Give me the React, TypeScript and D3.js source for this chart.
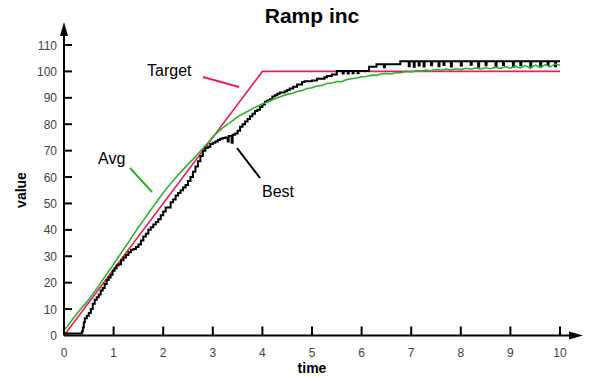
import React from 'react'
import * as d3 from 'd3'

// chart values
const xTicks = [0, 1, 2, 3, 4, 5, 6, 7, 8, 9, 10]
const yTicks = [0, 10, 20, 30, 40, 50, 60, 70, 80, 90, 100, 110]

const target: [number, number][] = [[0, 0], [4, 100], [10, 100]]

const avg: [number, number][] = [
  [0, 2], [0.1, 4.3], [0.2, 6.8], [0.3, 9.2], [0.4, 11.4], [0.5, 13.6], [0.6, 16.2], [0.7, 18.8],
  [0.8, 21.6], [0.9, 24.3], [1.0, 27], [1.1, 29.8], [1.2, 32.6], [1.3, 35.3], [1.4, 38.2], [1.5, 41],
  [1.6, 43.6], [1.7, 46.3], [1.8, 48.9], [1.9, 51.5], [2.0, 54], [2.1, 56.4], [2.2, 58.6], [2.3, 60.8],
  [2.4, 62.8], [2.5, 64.8], [2.6, 66.7], [2.7, 68.8], [2.8, 70.9], [2.9, 73], [3.0, 75.2], [3.1, 77],
  [3.2, 78.6], [3.3, 80], [3.4, 81.4], [3.5, 82.8], [3.6, 83.9], [3.7, 84.8], [3.8, 85.9], [3.9, 86.8],
  [4.0, 87.7], [4.1, 88.4], [4.2, 89.3], [4.3, 89.9], [4.4, 90.7], [4.5, 91.3], [4.6, 91.6], [4.7, 92.4],
  [4.8, 92.8], [4.9, 93.5], [5.0, 93.8], [5.1, 94.5], [5.2, 94.7], [5.3, 95.4], [5.4, 95.6], [5.5, 96.2],
  [5.6, 96.1], [5.7, 96.9], [5.8, 97.2], [5.9, 97.5], [6.0, 98], [6.1, 98.1], [6.2, 98.6], [6.3, 98.5],
  [6.4, 99.1], [6.5, 99.2], [6.6, 99.0], [6.7, 99.6], [6.8, 99.5], [6.9, 100], [7.0, 99.8], [7.1, 100.3],
  [7.2, 100.1], [7.3, 100.5], [7.4, 100.2], [7.5, 100.7], [7.6, 100.4], [7.7, 100.9], [7.8, 100.5],
  [7.9, 101], [8.0, 100.7], [8.1, 101.2], [8.2, 100.8], [8.3, 101.3], [8.4, 100.9], [8.5, 101.4],
  [8.6, 101], [8.7, 101.6], [8.8, 101.1], [8.9, 101.8], [9.0, 101.2], [9.1, 102], [9.2, 101.3],
  [9.3, 102.2], [9.4, 101.2], [9.5, 102.4], [9.6, 101.5], [9.7, 102.6], [9.8, 101.7], [9.9, 102.8],
  [10, 102.4],
]

const best: [number, number][] = [
  [0, 0.8], [0.36, 1.5], [0.38, 3], [0.4, 5], [0.42, 6.5], [0.46, 7.5], [0.5, 8.5], [0.54, 10],
  [0.58, 12], [0.62, 13.5], [0.66, 14.5], [0.7, 15.5], [0.74, 17], [0.78, 18], [0.82, 19.5],
  [0.86, 21], [0.9, 22], [0.94, 23], [0.98, 24.5], [1.02, 25.5], [1.06, 26.5], [1.1, 27],
  [1.15, 28.5], [1.2, 29.5], [1.25, 30.5], [1.3, 31.5], [1.35, 32.5], [1.4, 32.8], [1.45, 33.5],
  [1.5, 34.5], [1.55, 36], [1.6, 37.5], [1.65, 38.5], [1.7, 40], [1.75, 41], [1.8, 42], [1.85, 43],
  [1.9, 44], [1.95, 45.5], [2.0, 47], [2.05, 48.5], [2.1, 48.5], [2.15, 50.5], [2.2, 51.5],
  [2.25, 53], [2.3, 54], [2.35, 55], [2.4, 56], [2.45, 57], [2.5, 58.5], [2.55, 60], [2.6, 62],
  [2.65, 64], [2.7, 66], [2.75, 68], [2.8, 70], [2.85, 71], [2.9, 71.5], [2.95, 72.5], [3.0, 73],
  [3.05, 73.5], [3.1, 74], [3.15, 74.5], [3.2, 74.8], [3.25, 75], [3.3, 73.5], [3.32, 75.5],
  [3.38, 73], [3.4, 76], [3.45, 76.5], [3.5, 77.5], [3.55, 79], [3.6, 80], [3.65, 81], [3.7, 82],
  [3.75, 83], [3.8, 84], [3.85, 85], [3.9, 85.5], [3.95, 86.5], [4.0, 87.5], [4.05, 88.5],
  [4.1, 89], [4.15, 89.5], [4.2, 90.5], [4.25, 91], [4.3, 91.5], [4.35, 92], [4.45, 92.5],
  [4.5, 93], [4.55, 93.5], [4.62, 94.2], [4.7, 95], [4.8, 96], [4.85, 96.3], [5.0, 96.6],
  [5.1, 97.2], [5.25, 97.8], [5.3, 98.3], [5.4, 98.8], [5.5, 100.2], [5.62, 99.2], [5.64, 100.2],
  [5.72, 99.2], [5.74, 100.2], [5.82, 99.3], [5.84, 100.2], [5.92, 99.3], [5.94, 100.2],
  [6.15, 101.8], [6.3, 102.7], [6.45, 101.6], [6.47, 102.7], [6.78, 103.8],
  [6.95, 102], [6.97, 103.8], [7.05, 101.8], [7.07, 103.8], [7.15, 102.2], [7.17, 103.8],
  [7.25, 101.9], [7.27, 103.8], [7.4, 102.3], [7.42, 103.8], [7.55, 102], [7.57, 103.8],
  [7.65, 102.4], [7.67, 103.8], [7.8, 101.9], [7.82, 103.8], [8.0, 102.2], [8.02, 103.8],
  [8.2, 102.5], [8.22, 103.8], [8.35, 101.8], [8.37, 103.8], [8.5, 102.3], [8.52, 103.8],
  [8.7, 102], [8.72, 103.8], [8.85, 102.4], [8.87, 103.8], [9.05, 101.8], [9.07, 103.8],
  [9.2, 102.3], [9.22, 103.8], [9.4, 102], [9.42, 103.8], [9.6, 101.7], [9.62, 103.8],
  [9.75, 102.3], [9.77, 103.8], [9.9, 102], [9.92, 103.8], [10, 103.8],
]

const W = 592
const H = 381

export default function App() {
  const x = d3.scaleLinear().domain([0, 10]).range([64, 560])
  const y = d3.scaleLinear().domain([0, 110]).range([335.5, 45])

  const line = d3.line<[number, number]>().x(d => x(d[0])).y(d => y(d[1]))
  const stepLine = d3.line<[number, number]>().x(d => x(d[0])).y(d => y(d[1])).curve(d3.curveStepAfter)

  const red = '#e8205c'
  const green = '#2db42d'
  const x0 = x(0)
  const y0 = y(0)

  return (
    <svg width={W} height={H} style={{ position: 'absolute', left: 0, top: 0, background: '#fff' }}
      fontFamily="'Liberation Sans', Arial, sans-serif">
      <text x={312} y={23} textAnchor="middle" fontSize={21} fontWeight="bold" fill="#000">Ramp inc</text>

      {/* series */}
      <path d={line(target) || ''} fill="none" stroke={red} strokeWidth={1.6} />
      <path d={stepLine(best) || ''} fill="none" stroke="#000" strokeWidth={2} strokeLinejoin="miter" />
      <path d={line(avg) || ''} fill="none" stroke={green} strokeWidth={1.6} />

      {/* axes */}
      <line x1={x0} y1={y0} x2={574} y2={y0} stroke="#000" strokeWidth={2} />
      <path d={`M583,${y0} L569,${y0 - 4} L569,${y0 + 4} Z`} fill="#000" />
      <line x1={x0} y1={y0} x2={x0} y2={32} stroke="#000" strokeWidth={2} />
      <path d={`M${x0},22 L${x0 - 4},36 L${x0 + 4},36 Z`} fill="#000" />

      {xTicks.map(t => (
        <g key={'x' + t}>
          {t > 0 && <line x1={x(t)} y1={y0} x2={x(t)} y2={y0 - 9} stroke="#000" strokeWidth={2} />}
          <text x={x(t)} y={356.5} textAnchor="middle" fontSize={12} fill="#444">{t}</text>
        </g>
      ))}
      {yTicks.map(v => (
        <g key={'y' + v}>
          {v > 0 && <line x1={x0} y1={y(v)} x2={x0 + 8} y2={y(v)} stroke="#000" strokeWidth={2} />}
          <text x={57} y={y(v) + 4.5} textAnchor="end" fontSize={12} fill="#444">{v}</text>
        </g>
      ))}

      <text x={312} y={373} textAnchor="middle" fontSize={14} fontWeight="bold">time</text>
      <text transform="translate(26,190) rotate(-90)" textAnchor="middle" fontSize={14} fontWeight="bold">value</text>

      {/* annotations */}
      <text x={147} y={76} fontSize={16}>Target</text>
      <line x1={203} y1={77} x2={239} y2={87} stroke={red} strokeWidth={2} />
      <text x={98} y={164} fontSize={16}>Avg</text>
      <line x1={130} y1={168} x2={152} y2={192} stroke={green} strokeWidth={2} />
      <text x={262} y={197} fontSize={16}>Best</text>
      <line x1={237} y1={148} x2={260} y2={178} stroke="#000" strokeWidth={2} />
    </svg>
  )
}
